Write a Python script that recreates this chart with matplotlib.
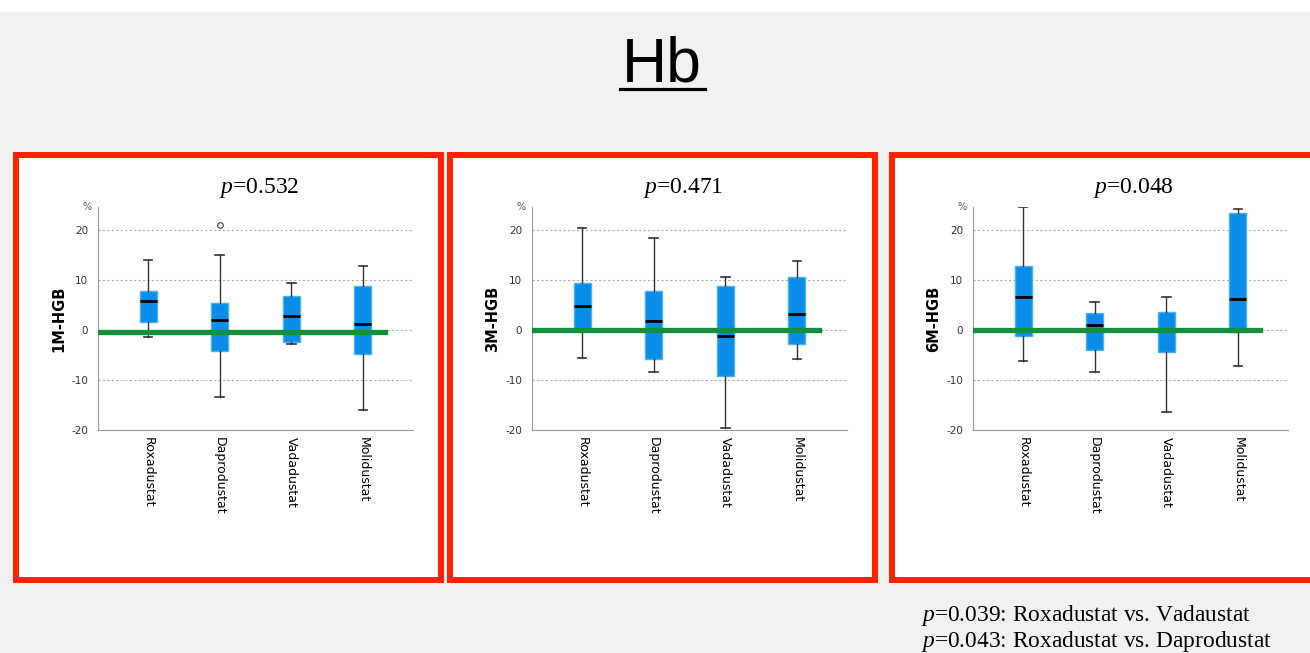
import matplotlib
matplotlib.use("Agg")
from matplotlib import pyplot as plt
from matplotlib.patches import Rectangle
from matplotlib.lines import Line2D

plt.rcParams['mathtext.fontset'] = 'custom'
plt.rcParams['mathtext.rm'] = 'Liberation Serif'
plt.rcParams['mathtext.it'] = 'Liberation Serif:italic'
plt.rcParams['axes.unicode_minus'] = False

# categories and box statistics
categories = ['Roxadustat', 'Daprodustat', 'Vadadustat', 'Molidustat']
panel_labels = ['1M-HGB', '3M-HGB', '6M-HGB']
p_values = ['0.532', '0.471', '0.048']
ref_levels = [-0.5, 0.0, 0.0]

m1_whishi = [13.9, 15.0, 9.3, 12.7]
m1_q3 = [7.8, 5.4, 6.8, 8.7]
m1_med = [5.7, 2.0, 2.8, 1.1]
m1_q1 = [1.5, -4.2, -2.5, -4.9]
m1_whislo = [-1.5, -13.4, -2.8, -16.0]
m1_fliers = [[], [21.0], [], []]

m3_whishi = [20.4, 18.3, 10.5, 13.7]
m3_q3 = [9.3, 7.7, 8.7, 10.5]
m3_med = [4.7, 1.7, -1.2, 3.2]
m3_q1 = [0.0, -5.9, -9.3, -2.8]
m3_whislo = [-5.6, -8.5, -19.7, -5.9]
m3_fliers = [[], [], [], []]

m6_whishi = [24.5, 5.5, 6.5, 24.2]
m6_q3 = [12.8, 3.3, 3.6, 23.3]
m6_med = [6.5, 0.9, 0.0, 6.1]
m6_q1 = [-1.2, -4.0, -4.5, -0.5]
m6_whislo = [-6.3, -8.5, -16.4, -7.2]
m6_fliers = [[], [], [], []]

notes = ['=0.039: Roxadustat vs. Vadaustat', '=0.043: Roxadustat vs. Daprodustat']

panels = [
    (m1_whislo, m1_q1, m1_med, m1_q3, m1_whishi, m1_fliers),
    (m3_whislo, m3_q1, m3_med, m3_q3, m3_whishi, m3_fliers),
    (m6_whislo, m6_q1, m6_med, m6_q3, m6_whishi, m6_fliers),
]

W, H = 1310, 653
fig = plt.figure(figsize=(W / 100, H / 100), dpi=100, facecolor='#f1f1f1')

# white strip at the very top
fig.patches.append(Rectangle((0, 1 - 12 / H), 1, 12 / H, transform=fig.transFigure,
                             facecolor='white', edgecolor='none', zorder=-2))

# big underlined title
fig.text(662 / W, 1 - 82 / H, 'Hb', family='Liberation Sans', fontsize=45,
         ha='center', va='baseline')
fig.add_artist(Line2D([620 / W, 705 / W], [1 - 88.5 / H, 1 - 88.5 / H], color='black',
                      lw=2.3, transform=fig.transFigure))

# red frames (centre lines, pixels)
frames = [(16, 441), (449.5, 875), (891.5, 1318)]
for x0, x1 in frames:
    fig.patches.append(Rectangle((x0 / W, 1 - 580 / H), (x1 - x0) / W, 425 / H,
                                 transform=fig.transFigure, facecolor='white',
                                 edgecolor='#ff2200', lw=4.3, zorder=-1))

axes_left = [98, 532, 973]
title_x = [259, 683, 1133]

for i, (lo, q1, med, q3, hi, fl) in enumerate(panels):
    ax = fig.add_axes([axes_left[i] / W, (H - 430) / H, 315 / W, 223 / H])
    ax.set_facecolor('white')
    stats = []
    for j, name in enumerate(categories):
        stats.append(dict(label=name, whislo=lo[j], q1=q1[j], med=med[j],
                          q3=q3[j], whishi=hi[j], fliers=fl[j]))
    ax.bxp(stats, positions=[1, 2, 3, 4], widths=0.24, patch_artist=True,
           showfliers=True, capwidths=0.12,
           boxprops=dict(facecolor='#0a8de8', edgecolor='#45b2f2', lw=1),
           medianprops=dict(color='black', lw=2),
           whiskerprops=dict(color='#333333', lw=1),
           capprops=dict(color='#333333', lw=1.2),
           flierprops=dict(marker='o', markersize=4, markerfacecolor='white',
                           markeredgecolor='#444444', markeredgewidth=0.8))
    ax.axhline(ref_levels[i], xmin=0, xmax=0.91, color='#12903c', lw=3.8, zorder=5)
    ax.set_xlim(0.3, 4.7)
    ax.set_ylim(-20, 24.5)
    ax.set_yticks([-20, -10, 0, 10, 20])
    for g in [-10, 0, 10, 20]:
        ax.axhline(g, color='#b0b0b0', lw=0.8, ls=(0, (2, 2)), zorder=0)
    ax.spines['top'].set_visible(False)
    ax.spines['right'].set_visible(False)
    ax.spines['left'].set_color('#9a9a9a')
    ax.spines['bottom'].set_color('#9a9a9a')
    ax.tick_params(length=0, labelsize=7.5, labelcolor='#333333', pad=7)
    ax.set_xticks([1, 2, 3, 4])
    ax.set_xticklabels(categories, rotation=270, fontsize=9, color='black',
                       fontweight='medium')
    ax.tick_params(axis='x', pad=5)
    ax.set_ylabel(panel_labels[i], fontsize=10.5, fontweight='bold', labelpad=4)
    ax.text(-0.02, 1.0, '%', transform=ax.transAxes, fontsize=7, ha='right',
            va='center', color='#555555')
    fig.text(title_x[i] / W, 1 - 193 / H, r'$p$=' + p_values[i],
             family='Liberation Serif', fontsize=17, ha='center', va='baseline')

for k, line in enumerate(notes):
    fig.text(921 / W, 1 - (621 + 26 * k) / H, r'$p$' + line,
             family='Liberation Serif', fontsize=16.8, ha='left', va='baseline')

fig.savefig('out.png', dpi=100, facecolor=fig.get_facecolor())
